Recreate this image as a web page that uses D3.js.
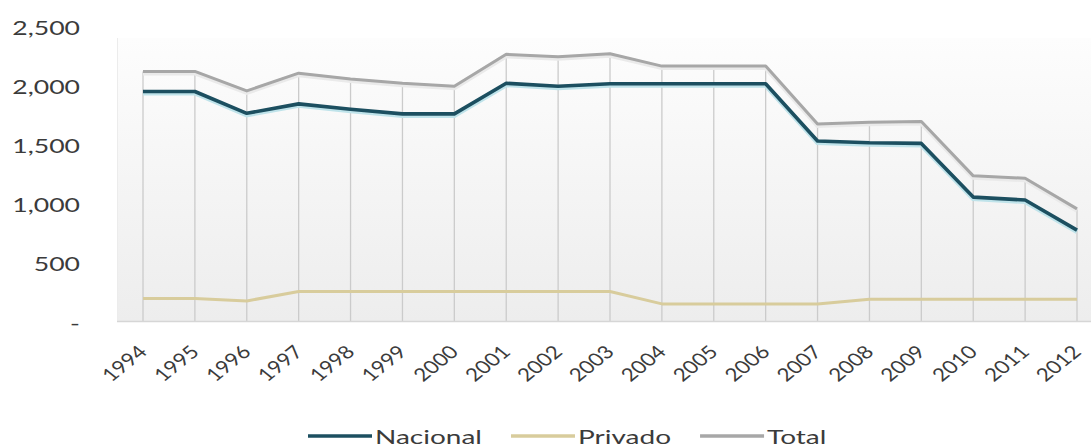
<!DOCTYPE html>
<html>
<head>
<meta charset="utf-8">
<script src="https://cdn.jsdelivr.net/npm/d3@7/dist/d3.min.js"></script>
<style>
  html, body { margin: 0; padding: 0; background: #ffffff; }
  svg { display: block; }
  text { font-family: Lato, "Open Sans", sans-serif; fill: #3b3b3b; }
</style>
</head>
<body>
<svg id="chart" width="1091" height="448"></svg>
<script>
// Years on the category axis
const years = ["1994","1995","1996","1997","1998","1999","2000","2001","2002","2003",
               "2004","2005","2006","2007","2008","2009","2010","2011","2012"];

// Series values
const nacional = [1945,1945,1760,1840,1795,1755,1755,2015,1990,2010,2010,2010,2010,1525,1510,1505,1050,1025,770];
const privado  = [190,190,170,250,250,250,250,250,250,250,145,145,145,145,185,185,185,185,185];
const total    = [2115,2115,1950,2100,2050,2015,1990,2260,2240,2265,2160,2160,2160,1670,1685,1690,1230,1210,950];

// Value-axis ticks
const yTicks = [0, 500, 1000, 1500, 2000, 2500];

const seriesNames = ["Nacional", "Privado", "Total"];
const seriesColors = ["#1c4f60", "#d8cc9c", "#a7a7a7"];

const SX = 1.4;   // horizontal text stretch (value axis, legend)
const SXC = 1.25; // horizontal text stretch (category labels)

const svg = d3.select("#chart");

const plot = { left: 117, right: 1103, top: 38, bottom: 321 };

const x = d3.scalePoint().domain(years).range([143, 1077]);
const y = d3.scaleLinear().domain([0, 2500]).range([plot.bottom, 26]);

// Plot-area background with a soft vertical gradient
const defs = svg.append("defs");
const grad = defs.append("linearGradient").attr("id", "plotBg")
  .attr("x1", 0).attr("y1", 0).attr("x2", 0).attr("y2", 1);
grad.append("stop").attr("offset", "0%").attr("stop-color", "#fdfdfd");
grad.append("stop").attr("offset", "100%").attr("stop-color", "#ededed");

svg.append("rect")
  .attr("x", plot.left).attr("y", plot.top)
  .attr("width", plot.right - plot.left).attr("height", plot.bottom - plot.top)
  .attr("fill", "url(#plotBg)");

svg.append("line")
  .attr("x1", plot.left + 0.5).attr("x2", plot.left + 0.5)
  .attr("y1", plot.top).attr("y2", plot.bottom)
  .attr("stroke", "#ececec").attr("stroke-width", 1);

// Drop lines from the highest series down to the category axis
svg.append("g").selectAll("line")
  .data(years)
  .join("line")
  .attr("x1", d => x(d)).attr("x2", d => x(d))
  .attr("y1", (d, i) => y(total[i])).attr("y2", y(0))
  .attr("stroke", "#cbcbcb").attr("stroke-width", 1.3);

// Category axis line
svg.append("line")
  .attr("x1", plot.left).attr("x2", plot.right)
  .attr("y1", plot.bottom + 0.5).attr("y2", plot.bottom + 0.5)
  .attr("stroke", "#d6d6d6").attr("stroke-width", 1.5);

// Value axis
const yAxis = svg.append("g")
  .attr("transform", "translate(80,2)")
  .call(d3.axisLeft(y).tickValues(yTicks).tickSize(0).tickPadding(0)
    .tickFormat(d => d === 0 ? "-" : d3.format(",")(d)));
yAxis.select(".domain").remove();
yAxis.selectAll("text")
  .attr("font-size", 19)
  .attr("font-family", "Lato, sans-serif")
  .attr("fill", "#3b3b3b")
  .attr("transform", `scale(${SX},1)`);

// Category axis
const xAxis = svg.append("g")
  .attr("transform", `translate(0,${plot.bottom})`)
  .call(d3.axisBottom(x).tickSize(0).tickPadding(0));
xAxis.select(".domain").remove();
xAxis.selectAll("text")
  .attr("font-size", 18)
  .attr("font-family", "Lato, sans-serif")
  .attr("fill", "#3b3b3b")
  .attr("text-anchor", "end")
  .attr("x", 0).attr("y", 0).attr("dy", 0)
  .attr("transform", `translate(5,32) scale(${SXC},1) rotate(-45)`);

// Series lines
const line = d3.line().x((d, i) => x(years[i])).y(d => y(d));

// soft halos beneath the lines
svg.append("path").datum(total)
  .attr("d", line).attr("fill", "none")
  .attr("stroke", "#eaeaea").attr("stroke-width", 5)
  .attr("transform", "translate(0,1.5)");
svg.append("path").datum(nacional)
  .attr("d", line).attr("fill", "none")
  .attr("stroke", "#bfe3ea").attr("stroke-width", 5)
  .attr("transform", "translate(0,1.5)");

const seriesData = [nacional, privado, total];
const widths = [3.6, 3, 3];
[2, 1, 0].forEach(k => {
  svg.append("path").datum(seriesData[k])
    .attr("d", line).attr("fill", "none")
    .attr("stroke", seriesColors[k]).attr("stroke-width", widths[k])
    .attr("stroke-linejoin", "round");
});

// Legend
const legend = svg.append("g");
let lx = 308;
const ly = 436;
seriesNames.forEach((name, k) => {
  legend.append("line")
    .attr("x1", lx).attr("x2", lx + 64)
    .attr("y1", ly).attr("y2", ly)
    .attr("stroke", seriesColors[k]).attr("stroke-width", 3.5);
  const t = legend.append("text")
    .attr("font-size", 20)
    .attr("dy", "0.35em")
    .attr("transform", `translate(${lx + 67},${ly + 1}) scale(${SX},1)`)
    .text(name);
  const w = t.node().getComputedTextLength() * SX;
  lx = lx + 67 + w + 29;
});
</script>
</body>
</html>
